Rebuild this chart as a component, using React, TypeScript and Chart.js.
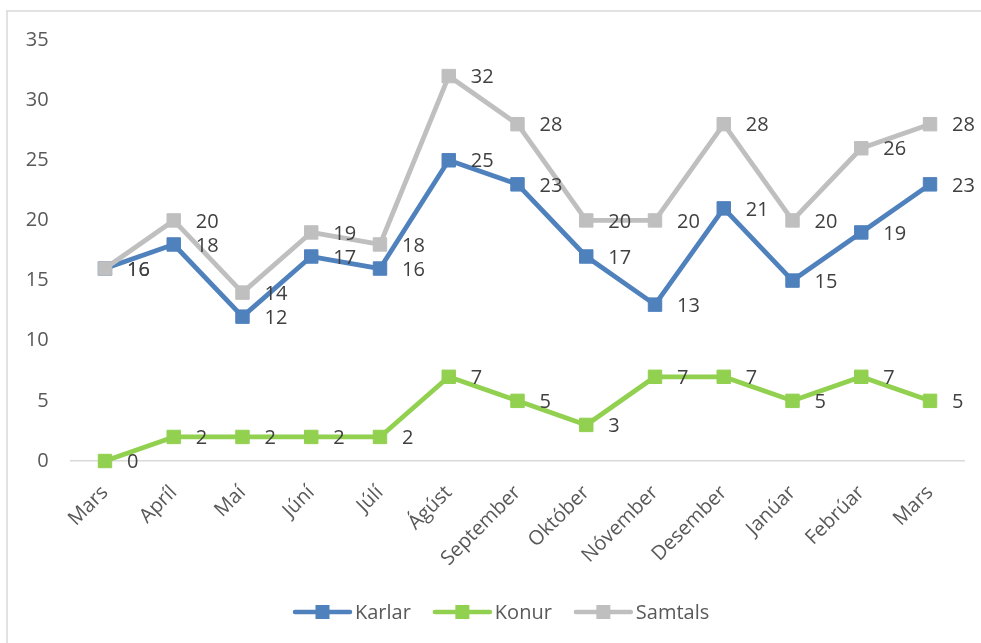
import React, { useEffect, useRef } from "react";
import { Chart, registerables } from "chart.js";

Chart.register(...registerables);

const categories = ["Mars", "Apríl", "Maí", "Júní", "Júlí", "Ágúst", "September", "Október", "Nóvember", "Desember", "Janúar", "Febrúar", "Mars"];
const karlar = [16, 18, 12, 17, 16, 25, 23, 17, 13, 21, 15, 19, 23];
const konur = [0, 2, 2, 2, 2, 7, 5, 3, 7, 7, 5, 7, 5];
const samtals = [16, 20, 14, 19, 18, 32, 28, 20, 20, 28, 20, 26, 28];
const seriesNames = ["Karlar", "Konur", "Samtals"];
const seriesColors = ["#4F81BD", "#92D050", "#BFBFBF"];
const yTicks = [0, 5, 10, 15, 20, 25, 30, 35];

const FONT = "'Open Sans', 'Noto Sans', sans-serif";
const FS = 20;

const framePlugin = {
  id: "frame",
  beforeDraw(chart: any) {
    const ctx = chart.ctx;
    ctx.save();
    ctx.fillStyle = "#ffffff";
    ctx.fillRect(0, 0, chart.width, chart.height);
    ctx.strokeStyle = "#D9D9D9";
    ctx.lineWidth = 1.5;
    ctx.beginPath();
    ctx.moveTo(7, chart.height);
    ctx.lineTo(7, 11);
    ctx.lineTo(chart.width, 11);
    ctx.stroke();
    ctx.restore();
  },
};

const labelsPlugin = {
  id: "dataLabels",
  afterDatasetsDraw(chart: any) {
    const ctx = chart.ctx;
    ctx.save();
    ctx.font = `${FS}px ${FONT}`;
    ctx.fillStyle = "#404040";
    ctx.textAlign = "left";
    ctx.textBaseline = "middle";
    chart.data.datasets.forEach((ds: any, i: number) => {
      const meta = chart.getDatasetMeta(i);
      meta.data.forEach((pt: any, j: number) => {
        ctx.fillText(String(ds.data[j]), pt.x + 22, pt.y + 1.5);
      });
    });
    ctx.restore();
  },
};

const legendPlugin = {
  id: "customLegend",
  afterDraw(chart: any) {
    const ctx = chart.ctx;
    ctx.save();
    ctx.font = `${FS}px ${FONT}`;
    const y = 612;
    const lineLen = 55;
    const gapText = 5;
    const gapItem = 24;
    const widths = seriesNames.map((n) => lineLen + gapText + ctx.measureText(n).width);
    let x = 295;
    seriesNames.forEach((name, i) => {
      ctx.strokeStyle = seriesColors[i];
      ctx.lineWidth = 4.5;
      ctx.lineCap = "round";
      ctx.beginPath();
      ctx.moveTo(x, y);
      ctx.lineTo(x + lineLen, y);
      ctx.stroke();
      ctx.fillStyle = seriesColors[i];
      ctx.fillRect(x + lineLen / 2 - 7, y - 7, 14, 14);
      ctx.fillStyle = "#595959";
      ctx.textAlign = "left";
      ctx.textBaseline = "middle";
      ctx.fillText(name, x + lineLen + gapText, y + 1);
      x += widths[i] + gapItem;
    });
    ctx.restore();
  },
};

export default function App() {
  const ref = useRef<HTMLCanvasElement | null>(null);

  useEffect(() => {
    if (!ref.current) return;
    const data = [karlar, konur, samtals];
    const chart = new Chart(ref.current, {
      type: "line",
      data: {
        labels: categories,
        datasets: data.map((d, i) => ({
          label: seriesNames[i],
          data: d,
          borderColor: seriesColors[i],
          backgroundColor: seriesColors[i],
          borderWidth: 4.8,
          borderJoinStyle: "round" as const,
          borderCapStyle: "round" as const,
          pointStyle: "rect" as const,
          pointRadius: 9.5,
          pointBorderWidth: 1,
          pointBackgroundColor: seriesColors[i],
          pointBorderColor: seriesColors[i],
          tension: 0,
          clip: false as const,
          order: 2 - i,
        })),
      },
      options: {
        responsive: false,
        animation: false,
        events: [],
        layout: { padding: { left: 0, right: 16.6, top: 40, bottom: 0 } },
        plugins: {
          legend: { display: false },
          tooltip: { enabled: false },
        },
        scales: {
          x: {
            offset: true,
            grid: { display: false, drawTicks: false },
            border: { display: true, color: "#D9D9D9", width: 1.5 },
            ticks: {
              color: "#595959",
              font: { family: FONT, size: FS },
              maxRotation: 45,
              minRotation: 45,
              autoSkip: false,
              padding: 20,
            },
            afterFit(scale: any) {
              scale.height = 182;
            },
          },
          y: {
            min: 0,
            max: 35,
            afterBuildTicks(scale: any) {
              scale.ticks = yTicks.map((v) => ({ value: v }));
            },
            grid: { display: false, drawTicks: false },
            border: { display: false },
            ticks: {
              color: "#595959",
              font: { family: FONT, size: FS },
              padding: 22,
            },
            afterFit(scale: any) {
              scale.width = 70.6;
            },
          },
        },
      },
      plugins: [framePlugin, labelsPlugin, legendPlugin],
    });
    return () => chart.destroy();
  }, []);

  return (
    <canvas
      ref={ref}
      width={981}
      height={643}
      style={{ position: "fixed", left: 0, top: 0, width: 981, height: 643 }}
    />
  );
}
